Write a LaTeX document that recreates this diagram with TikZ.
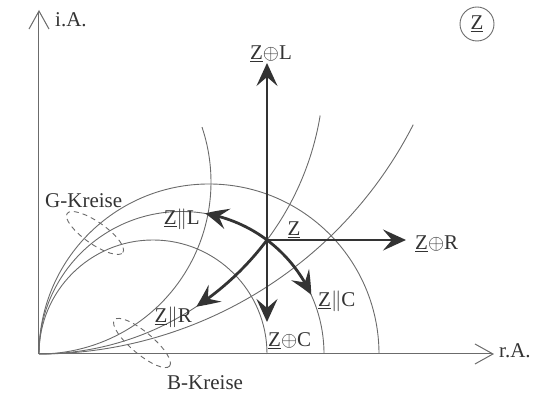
\documentclass[tikz,border=0pt]{standalone}
\usepackage{fontspec}
\setmainfont{Liberation Serif}
\usetikzlibrary{arrows.meta,bending}
\definecolor{linegray}{gray}{0.42}
\definecolor{arrowgray}{gray}{0.2}
\definecolor{textgray}{gray}{0.2}
\begin{document}
\begin{tikzpicture}[x=1pt,y=1pt,
  thinline/.style={draw=linegray, line width=0.9pt},
  vecarrow/.style={draw=arrowgray, line width=2.8pt, -{Stealth[length=23pt,width=21pt,inset=9pt,bend]}},
  axisline/.style={draw=linegray, line width=1pt, -{Straight Barb[length=18pt,width=20pt,line width=1pt]}},
  lbl/.style={text=textgray, font=\fontsize{21}{24}\selectfont, inner sep=0pt},
  ellipsestyle/.style={draw=linegray, line width=0.9pt, dash pattern=on 5pt off 4pt}
]
\useasboundingbox (-39,-44) rectangle (500,354);
% axes
\coordinate (O) at (0,0);
\coordinate (Ytip) at (0,344);
\coordinate (Xtip) at (455,0);
\draw[axisline] (O) -- (Ytip);
\draw[axisline] (O) -- (Xtip);
% G circles
\draw[thinline] (O) arc[start angle=180,end angle=0,radius=114];
\draw[thinline] (O) arc[start angle=180,end angle=0,radius=142.5];
\draw[thinline] (O) arc[start angle=180,end angle=0,radius=170];
% B circles
\draw[thinline] (O) arc[start angle=-90,end angle=18.6,radius=172];
\draw[thinline] (O) arc[start angle=-90,end angle=-9.4,radius=285];
\draw[thinline] (O) arc[start angle=-90,end angle=-27,radius=420];
% dashed ellipses
\draw[ellipsestyle, rotate around={-35:(56,121)}] (56,121) ellipse[x radius=34,y radius=11];
\draw[ellipsestyle, rotate around={-40:(103,11)}] (103,11) ellipse[x radius=36,y radius=11];
% vectors
\coordinate (Z) at (228,114);
\coordinate (ZpL) at (228,291);
\coordinate (ZpR) at (367,114);
\coordinate (ZpC) at (228,32);
\draw[vecarrow] (Z) -- (ZpL);
\draw[vecarrow] (Z) -- (ZpR);
\draw[vecarrow] (Z) -- (ZpC);
\draw[vecarrow] (Z) arc[start angle=53.13,end angle=80.5,radius=142.5];
\draw[vecarrow] (Z) arc[start angle=53.13,end angle=24.5,radius=142.5];
\draw[vecarrow] (Z) arc[start angle=-36.87,end angle=-56.5,radius=285];
% labels
\node[lbl, anchor=base] (tZpL) at (232,294) {\underline{Z}$\oplus$L};
\node[lbl, anchor=base west] (tZpR) at (376,104) {\underline{Z}$\oplus$R};
\node[lbl, anchor=base west] (tZpC) at (229,7) {\underline{Z}$\oplus$C};
\node[lbl, anchor=base west] (tZsC) at (279,47) {\underline{Z}$\|$C};
\node[lbl, anchor=base east] (tZsL) at (161,129) {\underline{Z}$\|$L};
\node[lbl, anchor=base east] (tZsR) at (153,31) {\underline{Z}$\|$R};
\node[lbl, anchor=base] (tZ) at (255,118) {\underline{Z}};
\node[lbl, anchor=base west] (tG) at (6,146) {G-Kreise};
\node[lbl, anchor=base west] (tB) at (128,-36) {B-Kreise};
\node[lbl, anchor=base west] (tiA) at (16,327) {i.A.};
\node[lbl, anchor=base west] (trA) at (460,-4) {r.A.};
\node[lbl, circle, draw=linegray, line width=0.9pt, minimum size=34pt] (zc) at (438,330) {\underline{Z}};
\end{tikzpicture}
\end{document}
